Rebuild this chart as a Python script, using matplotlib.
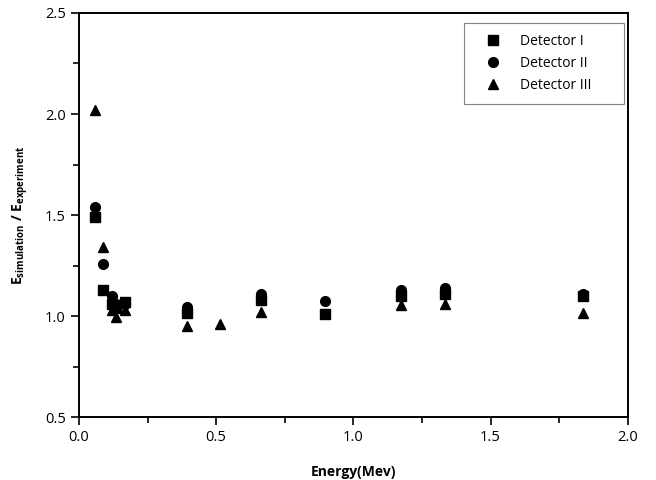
import matplotlib
matplotlib.use("Agg")
import matplotlib.pyplot as plt
from matplotlib.ticker import MultipleLocator

plt.rcParams['font.family'] = ['Open Sans', 'DejaVu Sans']
plt.rcParams['mathtext.fontset'] = 'custom'
plt.rcParams['mathtext.rm'] = 'Open Sans'
plt.rcParams['mathtext.bf'] = 'Open Sans:bold'

# energias das linhas gama (MeV)
energia_1 = [0.0595, 0.088, 0.122, 0.136, 0.166, 0.392, 0.662, 0.898, 1.173, 1.333, 1.836]
razao_1 = [1.49, 1.13, 1.06, 1.04, 1.07, 1.015, 1.08, 1.01, 1.10, 1.11, 1.10]

energia_2 = [0.0595, 0.088, 0.122, 0.136, 0.166, 0.392, 0.662, 0.898, 1.173, 1.333, 1.836]
razao_2 = [1.54, 1.26, 1.10, 1.06, 1.06, 1.045, 1.11, 1.075, 1.13, 1.14, 1.11]

energia_3 = [0.0595, 0.088, 0.122, 0.136, 0.166, 0.392, 0.514, 0.662, 1.173, 1.333, 1.836]
razao_3 = [2.02, 1.34, 1.03, 0.995, 1.03, 0.95, 0.96, 1.02, 1.055, 1.06, 1.015]

fig = plt.figure(figsize=(6.56, 4.8), dpi=100)
ax = fig.add_axes([0.1204, 0.131, 0.8366, 0.842])

ax.plot(energia_1, razao_1, 's', color='black', ms=6.5, label='Detector I')
ax.plot(energia_2, razao_2, 'o', color='black', ms=7, label='Detector II')
ax.plot(energia_3, razao_3, '^', color='black', ms=7.5, label='Detector III')

ax.set_xlim(0, 2.0)
ax.set_ylim(0.5, 2.5)
ax.xaxis.set_major_locator(MultipleLocator(0.5))
ax.xaxis.set_minor_locator(MultipleLocator(0.25))
ax.yaxis.set_major_locator(MultipleLocator(0.5))
ax.yaxis.set_minor_locator(MultipleLocator(0.25))
ax.tick_params(which='major', direction='out', length=6, width=1.2, labelsize=10.5)
ax.tick_params(which='minor', direction='out', length=4, width=1.2)
for s in ax.spines.values():
    s.set_linewidth(1.4)

ax.set_xlabel('Energy(Mev)', fontsize=10, fontweight='bold', labelpad=14)
ax.set_ylabel(r'$\mathbf{E}_{\mathbf{simulation}}$ / $\mathbf{E}_{\mathbf{experiment}}$',
              fontsize=10, fontweight='bold', labelpad=10)

leg = ax.legend(loc='upper right', bbox_to_anchor=(0.993, 0.975), borderaxespad=0,
                fontsize=10, frameon=True, fancybox=False, edgecolor='#666666',
                handlelength=2.5, handletextpad=0.7, borderpad=0.8,
                labelspacing=0.5)
leg.get_frame().set_linewidth(0.8)
# espaço extra à direita, como no original
leg._legend_box.align = 'left'
for t in leg.get_texts():
    t.set_text(t.get_text() + '      ')

fig.savefig('out.png', dpi=100)
